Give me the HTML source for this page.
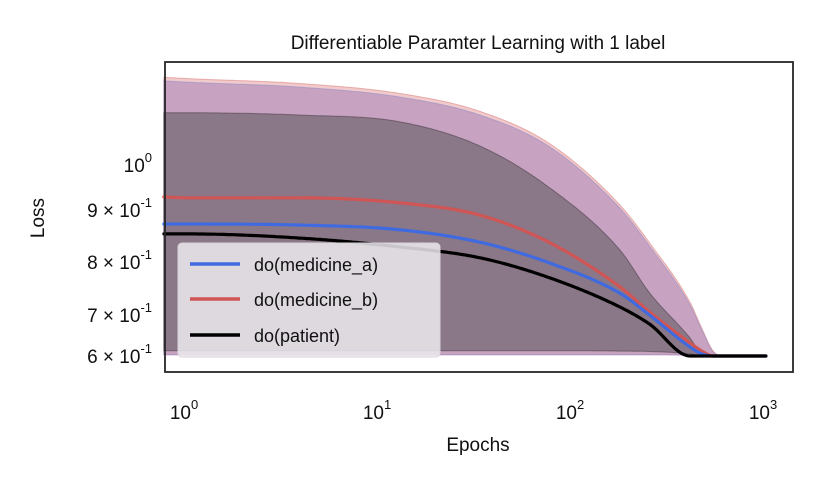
<!DOCTYPE html>
<html><head><meta charset="utf-8"><style>
body{margin:0;background:#fff;}
svg{font-family:"Liberation Sans",Arial,sans-serif;}
</style></head><body>
<svg id="chart" width="822" height="493" viewBox="0 0 822 493">
<rect width="822" height="493" fill="#fff"/>
<g id="bands"></g><g id="lines"></g><g id="axes"></g>
</svg>
<script>
const epochs=[0.75,1,3.8,12.5,32.6,75,173,246,399,460,526,600,1000];
const patientMean=[0.854,0.854,0.846,0.829,0.808,0.770,0.715,0.678,0.6,0.6,0.6,0.6,0.6];
const medAMean=[0.873,0.873,0.871,0.862,0.838,0.798,0.741,0.70,0.622,0.605,0.6,0.6,0.6];
const medBMean=[0.929,0.927,0.927,0.916,0.89,0.837,0.753,0.706,0.632,0.612,0.6,0.6,0.6];
const outerUpper=[1.187,1.184,1.173,1.151,1.111,1.04,0.904,0.831,0.719,0.663,0.61,0.6,0.6];
const redUpper=[1.195,1.192,1.181,1.159,1.119,1.047,0.911,0.837,0.724,0.667,0.612,0.6,0.6];
const darkUpper=[1.116,1.116,1.111,1.096,1.042,0.949,0.823,0.742,0.644,0.605,0.6,0.6,0.6];
const outerLower=[0.603,0.603,0.603,0.603,0.603,0.603,0.603,0.603,0.602,0.601,0.6,0.6,0.6];
const darkLower=[0.613,0.613,0.613,0.613,0.613,0.613,0.612,0.611,0.605,0.6,0.6,0.6,0.6];
const xTicks=[1,10,100,1000];
const xTickExp=["0","1","2","3"];
const yTicks=[1.0,0.9,0.8,0.7,0.6];
const yTickMant=["","9","8","7","6"];
const yTickExp=["0","-1","-1","-1","-1"];
const yTickPix=[165,210,262,315,356];

const NS="http://www.w3.org/2000/svg";
function X(e){return 188+193*Math.log10(e);}
function Y(v){
  if(v>=yTicks[0]) return yTickPix[0]-(v-yTicks[0])/0.1*(yTickPix[1]-yTickPix[0]);
  for(let i=0;i<yTicks.length-1;i++){
    if(v<=yTicks[i]&&v>=yTicks[i+1]) return yTickPix[i]+(yTicks[i]-v)/(yTicks[i]-yTicks[i+1])*(yTickPix[i+1]-yTickPix[i]);
  }
  const n=yTicks.length-1;return yTickPix[n]+(yTicks[n]-v)/0.1*(yTickPix[n]-yTickPix[n-1]);
}
function mk(tag,attrs,parent){const e=document.createElementNS(NS,tag);for(const k in attrs)e.setAttribute(k,attrs[k]);parent.appendChild(e);return e;}
function dense(arr,endEpoch){
  const xs=epochs.map(X),ys=arr.map(Y),n=xs.length;
  const d=[],m=[];
  for(let i=0;i<n-1;i++)d.push((ys[i+1]-ys[i])/(xs[i+1]-xs[i]));
  m[0]=d[0];m[n-1]=d[n-2];
  for(let i=1;i<n-1;i++){m[i]=(d[i-1]*d[i]<=0)?0:(d[i-1]+d[i])/2;}
  for(let i=0;i<n-1;i++){
    if(d[i]===0){m[i]=0;m[i+1]=0;continue;}
    const a=m[i]/d[i],b=m[i+1]/d[i],s=a*a+b*b;
    if(s>9){const t=3/Math.sqrt(s);m[i]=t*a*d[i];m[i+1]=t*b*d[i];}
  }
  const out=[],xEnd=X(endEpoch);
  for(let x=xs[0];x<=xEnd+0.01;x+=2){
    let i=0;while(i<n-2&&x>xs[i+1])i++;
    const h=xs[i+1]-xs[i],t=(x-xs[i])/h;
    const h00=2*t*t*t-3*t*t+1,h10=t*t*t-2*t*t+t,h01=-2*t*t*t+3*t*t,h11=t*t*t-t*t;
    out.push([x,h00*ys[i]+h10*h*m[i]+h01*ys[i+1]+h11*h*m[i+1]]);
  }
  return out;
}
function pathOf(p){return p.map((q,i)=>(i?"L":"M")+q[0].toFixed(1)+","+q[1].toFixed(1)).join("");}
function band(up,lo,fill,stroke,name){
  const u=dense(up,1000),l=dense(lo,1000).reverse();
  const d=pathOf(u)+pathOf(l).replace("M","L")+"Z";
  const el=mk("path",{d:d,fill:fill,stroke:stroke,"stroke-width":1},document.getElementById("bands"));
  
  
}
band(redUpper,outerLower,"rgba(230,160,160,0.55)","rgba(220,130,130,0.6)","band-medicine-b");
band(outerUpper,outerLower,"rgba(185,150,190,0.75)","rgba(150,140,200,0.6)","band-medicine-a");
band(darkUpper,darkLower,"#8a7787","rgba(60,50,60,0.5)","band-patient");
function line(arr,color,name){
  const el=mk("path",{d:pathOf(dense(arr,1000)),fill:"none",stroke:color,"stroke-width":3.2,"stroke-linecap":"round","stroke-linejoin":"round"},document.getElementById("lines"));
  
  
}
line(medBMean,"#d05656","line-medicine-b");
line(medAMean,"#3f6ae0","line-medicine-a");
line(patientMean,"#000","line-patient");

const ax=document.getElementById("axes");
const fr=mk("rect",{x:165,y:62,width:628,height:310,fill:"none",stroke:"#262626","stroke-width":1.8},ax);


xTicks.forEach((t,i)=>{
  const tx=mk("text",{x:X(t)-4,y:419,"font-size":19,"text-anchor":"middle",fill:"#111"},ax);
  
  
  tx.textContent="10";
  const s=mk("tspan",{dy:-10,"font-size":13},tx);s.textContent=xTickExp[i];
});
yTicks.forEach((t,i)=>{
  const tx=mk("text",{x:152,y:yTickPix[i]+7,"font-size":19,"text-anchor":"end",fill:"#111"},ax);
  
  
  tx.textContent=(yTickMant[i]?yTickMant[i]+" × ":"")+"10";
  const s=mk("tspan",{dy:-10,"font-size":13},tx);s.textContent=yTickExp[i];
});
</script>
<svg style="position:absolute;left:0;top:0" width="822" height="493">
<text x="478" y="49" font-size="19" text-anchor="middle" fill="#111">Differentiable Paramter Learning with 1 label</text>
<text x="478" y="451" font-size="19" text-anchor="middle" fill="#111">Epochs</text>
<text x="44" y="218" font-size="19" text-anchor="middle" fill="#111" transform="rotate(-90 44 218)">Loss</text>
<g>
<rect x="178" y="243" width="262" height="114" rx="4" fill="rgba(236,233,238,0.85)" stroke="#d8d4d8"/>
<g><line x1="190" y1="264" x2="240" y2="264" stroke="#3f6ae0" stroke-width="3.5"/><text x="254" y="271" font-size="18" fill="#111">do(medicine_a)</text></g>
<g><line x1="190" y1="299" x2="240" y2="299" stroke="#d05656" stroke-width="3.5"/><text x="254" y="306" font-size="18" fill="#111">do(medicine_b)</text></g>
<g><line x1="190" y1="335" x2="240" y2="335" stroke="#000" stroke-width="3.5"/><text x="254" y="342" font-size="18" fill="#111">do(patient)</text></g>
</g>
</svg>
</body></html>
